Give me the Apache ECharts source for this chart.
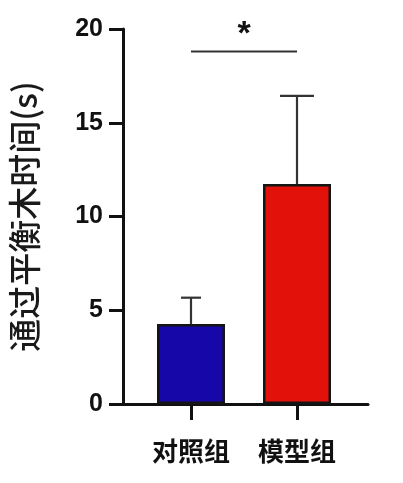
<!DOCTYPE html>
<html><head><meta charset="utf-8">
<script src="https://cdn.jsdelivr.net/npm/echarts@6/dist/echarts.min.js"></script>
<style>html,body{margin:0;padding:0;background:#fff}#c{width:403px;height:483px}</style>
</head><body><div id="c"></div>
<script>
var categories = ['对照组', '模型组'];
var means = [4.27, 11.73];
var sdUpper = [1.40, 4.70];
var barColors = ['#1608a8', '#e2120a'];
var yTicks = [0, 5, 10, 15, 20];
var sigLevel = 18.8;
var sigText = '*';
var yName = '通过平衡木时间(s)';

var chart = echarts.init(document.getElementById('c'));
var cjk = '"Noto Sans CJK SC", "Noto Sans", sans-serif';
var lat = '"Liberation Sans", Arial, sans-serif';

chart.setOption({
  animation: false,
  backgroundColor: '#fff',
  grid: [
    { left: 120, top: 29, width: 248, bottom: 79 },
    { left: 138, top: 29, width: 212, bottom: 79 }
  ],
  xAxis: [
    { gridIndex: 0, type: 'value', min: 0, max: 1,
      axisLine: { show: true, lineStyle: { color: '#111', width: 3 } },
      axisTick: { show: false }, axisLabel: { show: false }, splitLine: { show: false } },
    { gridIndex: 1, type: 'category', data: categories,
      axisLine: { show: false },
      axisTick: { show: true, alignWithLabel: true, length: 16, lineStyle: { color: '#111', width: 3 } },
      axisLabel: { margin: 34, fontSize: 26, color: '#111', fontFamily: cjk, fontWeight: 'bold' } }
  ],
  yAxis: [
    { gridIndex: 0, type: 'value', min: yTicks[0], max: yTicks[yTicks.length - 1], interval: 5,
      axisLine: { show: true, onZero: false, lineStyle: { color: '#111', width: 3 } },
      axisTick: { show: true, length: 14, lineStyle: { color: '#111', width: 3 } },
      axisLabel: { margin: 20, fontSize: 25, fontWeight: 'bold', color: '#111', fontFamily: lat },
      splitLine: { show: false },
      name: yName, nameLocation: 'middle', nameRotate: 90, nameGap: 82,
      nameTextStyle: { fontSize: 33, color: '#1a1a1a', fontFamily: cjk, fontWeight: 500 } },
    { gridIndex: 1, type: 'value', min: yTicks[0], max: yTicks[yTicks.length - 1], interval: 5, show: false }
  ],
  series: [
    { type: 'bar', xAxisIndex: 1, yAxisIndex: 1, barWidth: 68,
      data: means.map(function (v, i) {
        return { value: v, itemStyle: { color: barColors[i], borderColor: '#151515', borderWidth: 2.5 } };
      }),
      z: 3 },
    { type: 'custom', xAxisIndex: 1, yAxisIndex: 1, z: 2,
      data: means.map(function (v, i) { return [i, v, v + sdUpper[i]]; }),
      renderItem: function (params, api) {
        var base = api.coord([api.value(0), api.value(1)]);
        var top = api.coord([api.value(0), api.value(2)]);
        var hw = api.value(0) === 0 ? 10 : 17;
        var st = { stroke: '#333', lineWidth: 2.2 };
        return { type: 'group', children: [
          { type: 'line', shape: { x1: base[0], y1: base[1], x2: top[0], y2: top[1] }, style: st },
          { type: 'line', shape: { x1: top[0] - hw, y1: top[1], x2: top[0] + hw, y2: top[1] }, style: st }
        ] };
      } },
    { type: 'custom', xAxisIndex: 1, yAxisIndex: 1, z: 4,
      data: [[0, 1, sigLevel]],
      renderItem: function (params, api) {
        var a = api.coord([api.value(0), api.value(2)]);
        var b = api.coord([api.value(1), api.value(2)]);
        return { type: 'group', children: [
          { type: 'line', shape: { x1: a[0], y1: a[1], x2: b[0], y2: b[1] }, style: { stroke: '#333', lineWidth: 2.2 } },
          { type: 'text', style: { text: sigText, x: (a[0] + b[0]) / 2, y: a[1] - 17, align: 'center', verticalAlign: 'middle',
            font: 'bold 34px "Liberation Sans", Arial, sans-serif', fill: '#111' } }
        ] };
      } }
  ]
});
</script>
</body></html>
